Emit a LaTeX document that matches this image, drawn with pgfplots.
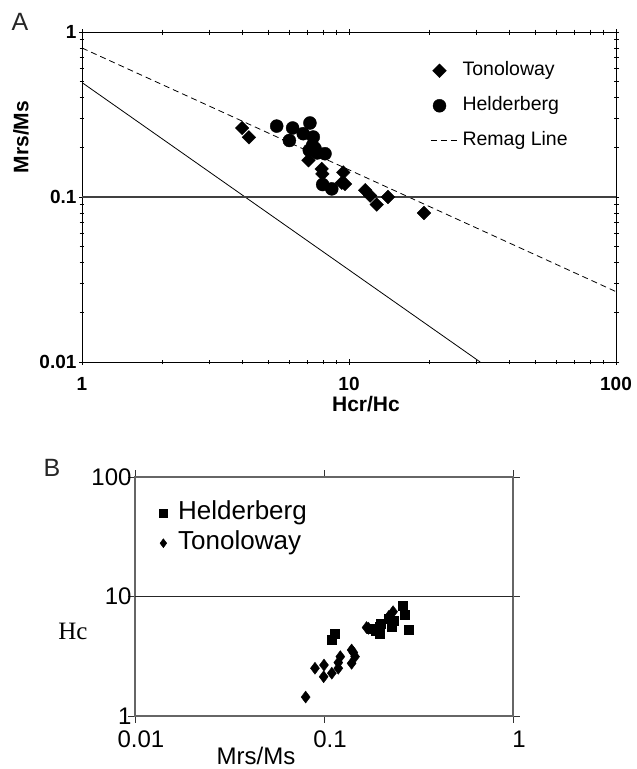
\documentclass[border=0pt]{standalone}
\usepackage{pgfplots}
\pgfplotsset{compat=1.18}
\usepackage{fontspec}
\setmainfont{Liberation Sans}
\newfontfamily\timesfont{Liberation Serif}

\newcommand{\fs}[1]{\fontsize{#1}{#1}\selectfont}

\begin{document}
\begin{tikzpicture}[x=1pt,y=1pt]
\path[use as bounding box] (0,-769) rectangle (637,0);

% ---------- Panel A: Day plot ----------
\begin{axis}[
  at={(82pt,-362pt)}, anchor=south west,
  width=534pt, height=330pt, scale only axis,
  xmode=log, ymode=log,
  xmin=1, xmax=100, ymin=0.01, ymax=1,
  xtick={1,10,100}, xticklabels={1,10,100},
  ytick={0.01,0.1,1}, yticklabels={0.01,0.1,1},
  ticklabel style={font=\fs{19}\bfseries},
  /pgf/number format/assume math mode=true,
  xticklabel style={yshift=-9pt},
  yticklabel style={xshift=1pt},
  tick align=center, major tick length=6pt, minor tick length=5pt,
  tick style={black, line width=0.8pt},
  axis line style={line width=0.9pt},
  legend cell align=left,
  legend style={at={(axis description cs:0.652,0.915)}, anchor=north west,
    draw=none, fill=none, inner xsep=0pt, inner ysep=0pt,
    font=\fs{19.5},
    nodes={inner sep=2pt, text height=13pt, text depth=4pt},
    row sep=14pt},
]
% Tonoloway
\addplot[only marks, mark=square*, mark size=4.8pt, mark options={rotate=45, fill=black, draw=black}]
  coordinates {
  (3.98,0.262) (4.22,0.230) (7.05,0.167) (7.90,0.148) (7.95,0.138)
  (9.52,0.141) (9.66,0.120) (9.40,0.122) (11.5,0.110) (12.0,0.102)
  (12.7,0.090) (14.0,0.100) (19.1,0.080)
  };
\addlegendentry{Tonoloway}
% Helderberg
\addplot[only marks, mark=*, mark size=6.5pt, mark options={fill=black, draw=black}]
  coordinates {
  (5.36,0.269) (6.15,0.262) (7.14,0.281) (5.98,0.220) (6.74,0.242)
  (7.35,0.231) (7.10,0.192) (7.30,0.205) (7.46,0.197) (8.13,0.183)
  (7.60,0.185) (7.97,0.119) (8.62,0.112)
  };
\addlegendentry{Helderberg}
% remagnetisation trend
\addplot[black, line width=0.8pt, dash pattern=on 6pt off 4pt,
  legend image code/.code={\draw[black, line width=1.2pt, dash pattern=on 6pt off 4pt] (0pt,0pt) -- (29pt,0pt);}]
  coordinates {(1,0.8) (100,0.0267)};
\addlegendentry{Remag Line}
% SD-MD reference line and 0.1 level
\addplot[black, line width=0.8pt, forget plot] coordinates {(1,0.494) (31,0.01)};
\addplot[black!75, line width=1.5pt, forget plot] coordinates {(1,0.1) (100,0.1)};
\end{axis}

% ---------- Panel B: Hc vs Mrs/Ms ----------
\begin{axis}[
  at={(135pt,-716pt)}, anchor=south west,
  width=378pt, height=239pt, scale only axis,
  xmode=log, ymode=log,
  xmin=0.01, xmax=1, ymin=1, ymax=100,
  xtick={0.01,0.1,1}, xticklabels={0.01,0.1,1},
  ytick={1,10,100}, yticklabels={1,10,100},
  minor tick num=0, minor tick length=0pt,
  ticklabel style={font=\fs{24}},
  /pgf/number format/assume math mode=true,
  xticklabel style={yshift=-4pt, xshift=6pt},
  yticklabel style={xshift=7pt},
  tick align=outside, major tick length=7pt,
  tick style={black!80, line width=0.8pt},
  axis line style={black!60, line width=1.2pt},
  legend cell align=left,
  legend style={at={(axis description cs:0.052,0.91)}, anchor=north west,
    draw=none, fill=none, inner xsep=0pt, inner ysep=0pt,
    font=\fs{26},
    nodes={inner sep=2pt, text height=19pt, text depth=6pt},
    row sep=1pt},
]
\addplot[black!85, line width=1pt, forget plot] coordinates {(0.01,10) (1,10)};
% Helderberg
\addplot[only marks, mark=square*, mark size=4.5pt, mark options={fill=black, draw=black},
  legend image code/.code={\path[draw=none, fill=none] (0cm,0cm) -- (0.75cm,0cm);
    \draw[only marks, mark size=3.8pt] plot coordinates {(0.3cm,0cm)};}]
  coordinates {
  (0.110,4.33) (0.114,4.92) (0.179,5.42) (0.188,5.21) (0.198,4.92)
  (0.198,5.59) (0.219,6.57) (0.228,5.59) (0.235,6.32) (0.261,8.37)
  (0.268,7.00) (0.279,5.32) (0.200,5.93)
  };
\addlegendentry{Helderberg}
% Tonoloway
\addplot[only marks, mark=diamond*, mark size=6pt, mark options={fill=black, draw=black},
  legend image code/.code={\path[draw=none, fill=none] (0cm,0cm) -- (0.45cm,0cm);
    \draw[only marks, mark size=4.5pt] plot coordinates {(0.3cm,0cm)};}]
  coordinates {
  (0.080,1.44) (0.0896,2.51) (0.100,2.67) (0.0996,2.13) (0.110,2.28)
  (0.119,2.51) (0.119,2.80) (0.122,3.14) (0.140,3.57) (0.146,3.14)
  (0.140,2.76) (0.143,3.40) (0.172,5.42) (0.168,5.50) (0.232,7.46)
  (0.220,6.80)
  };
\addlegendentry{Tonoloway}
\end{axis}

% panel letters and axis titles
\node[font=\fs{25}, black!85] at (20,-22) {A};
\node[font=\fs{25}, black!85] at (52,-468) {B};
\node[font=\fs{21}\bfseries, rotate=90] at (21,-137) {Mrs/Ms};
\node[font=\fs{21}\bfseries] at (366,-404) {Hcr/Hc};
\node[font=\fs{24}] at (256,-756) {Mrs/Ms};
\node[font=\timesfont\fs{25}] at (73,-631) {Hc};
\end{tikzpicture}
\end{document}
